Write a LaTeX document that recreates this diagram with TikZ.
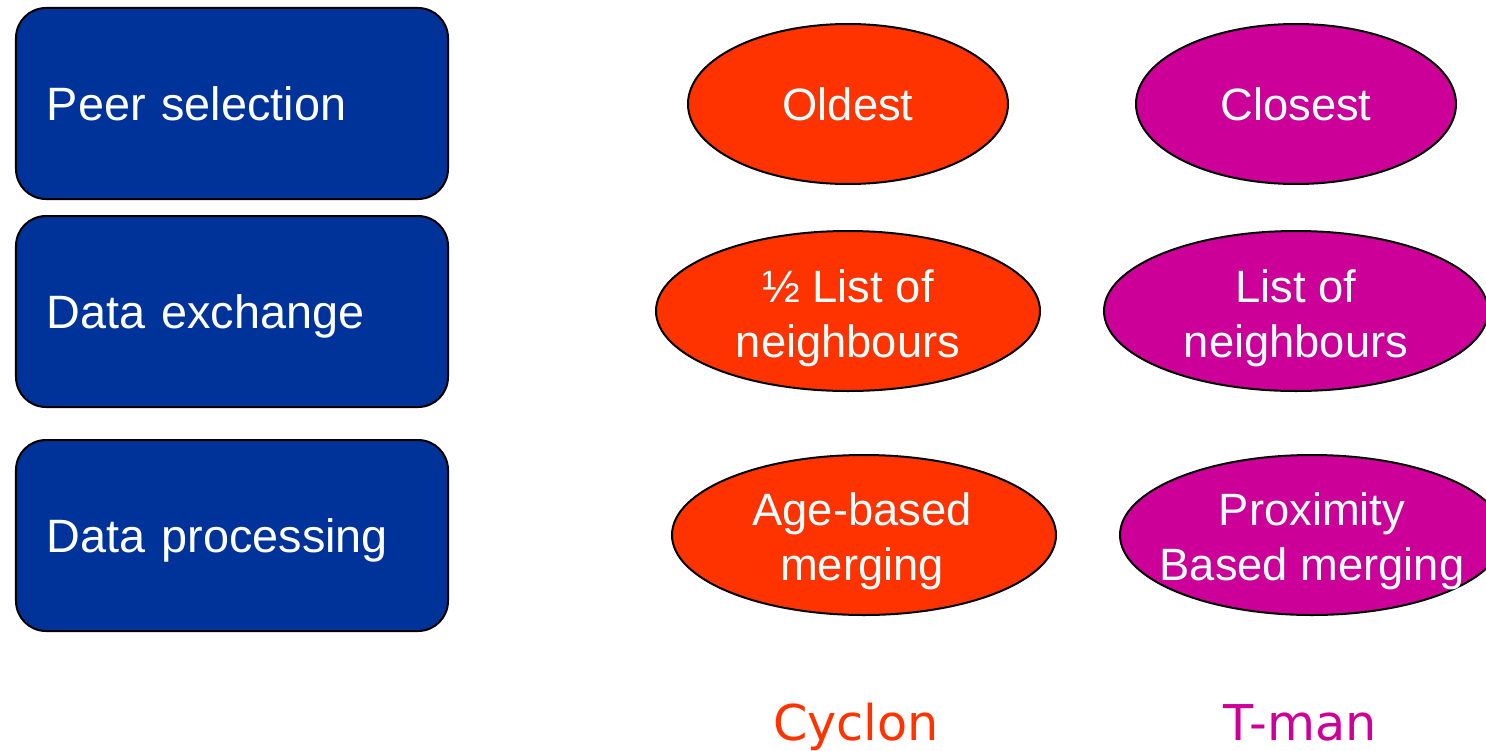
\documentclass[tikz,border=0pt]{standalone}
\usepackage{fontspec}
\setmainfont{Liberation Sans}
\newfontfamily\labelfont{DejaVu Sans}
\usetikzlibrary{shapes.geometric}

\definecolor{stepblue}{HTML}{003399}
\definecolor{cyclonred}{HTML}{FF3300}
\definecolor{tmanpink}{HTML}{CC0099}
\definecolor{ovaltextcol}{HTML}{E8FFFF}

\tikzset{
  stagebox/.style={draw=black, line width=2bp, fill=stepblue, rounded corners=30bp,
    minimum width=432bp, minimum height=191bp, text width=370bp, inner xsep=31bp,
    inner ysep=0bp, align=left, text=white, text height=34bp, text depth=0bp,
    font=\fontsize{47}{55}\selectfont},
  oval/.style={draw=black, line width=2bp, ellipse, inner sep=0bp,
    minimum height=160bp},
  ovaltext/.style={text=ovaltextcol, align=center, inner sep=0bp,
    font=\fontsize{45.5}{55}\selectfont},
  colhead/.style={inner sep=0bp, anchor=base, font=\labelfont\fontsize{49.5}{55}\selectfont}
}

\begin{document}
\begin{tikzpicture}[x=1bp, y=-1bp]
  \useasboundingbox (0,0) rectangle (1486,750);
  \clip (0,0) rectangle (1486,750);

  % protocol stages
  \node[stagebox] (peer) at (232,103.5) {Peer selection};
  \node[stagebox] (exch) at (232,311.5) {Data exchange};
  \node[stagebox] (proc) at (232,535.5) {Data processing};

  % Cyclon column
  \node[oval, fill=cyclonred, minimum width=320bp] (cy1) at (848,104) {};
  \node[oval, fill=cyclonred, minimum width=384bp] (cy2) at (848,311) {};
  \node[oval, fill=cyclonred, minimum width=384bp] (cy3) at (864,535) {};
  \node[ovaltext] (cy1t) at (cy1.center) {Oldest};
  \node[ovaltext] (cy2t) at (848,318.5) {½ List of\\neighbours};
  \node[ovaltext] (cy3t) at (862,541.5) {Age-based\\merging};

  % T-man column
  \node[oval, fill=tmanpink, minimum width=320bp] (tm1) at (1296,104) {};
  \node[oval, fill=tmanpink, minimum width=384bp] (tm2) at (1296,311) {};
  \node[oval, fill=tmanpink, minimum width=384bp] (tm3) at (1312,535) {};
  \node[ovaltext] (tm1t) at (tm1.center) {Closest};
  \node[ovaltext] (tm2t) at (1296,318.5) {List of\\neighbours};
  \node[ovaltext] (tm3t) at (1312,541.5) {Proximity\\Based merging};

  % column headings
  \node[colhead, text=cyclonred] (cyclon) at (856,740) {Cyclon};
  \node[colhead, text=tmanpink] (tman) at (1300,740) {T-man};
\end{tikzpicture}
\end{document}
